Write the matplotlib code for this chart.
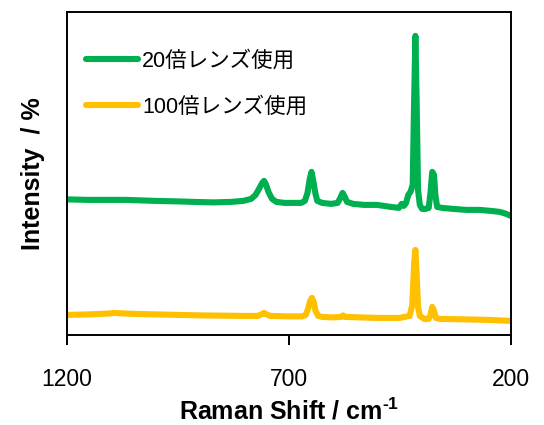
import matplotlib
matplotlib.use('Agg')
import matplotlib.pyplot as plt

plt.rcParams['font.family'] = ['Liberation Sans', 'Noto Sans CJK JP']
plt.rcParams['mathtext.fontset'] = 'custom'
plt.rcParams['mathtext.rm'] = 'Liberation Sans:bold'
plt.rcParams['mathtext.bf'] = 'Liberation Sans:bold'

# Raman shift (cm-1) and intensity (arbitrary units)
shift_20x = [1200, 1150, 1100, 1066, 1000, 950, 915, 870, 830, 803, 785, 775, 766,
             760, 756, 752, 746, 738, 728, 710, 690, 672, 664, 658, 653, 649, 645,
             640, 636, 625, 605, 590, 584, 579, 574, 569, 555, 530, 502, 470, 452,
             446, 441, 436, 431, 426, 421, 418, 415, 412, 409, 405, 400, 392, 385,
             381, 377, 373, 370, 366, 355, 330, 300, 270, 245, 225, 210, 200]
int_20x = [135.5, 135, 135, 135, 134, 133.5, 133, 132.5, 133, 134, 136, 140, 147,
           152, 154, 151, 143, 136, 133, 132, 132, 132, 134, 142, 156, 163, 154,
           141, 134, 132, 131, 132, 137, 142, 138, 133, 131, 130, 130, 128, 127,
           131, 129, 132, 140, 143, 150, 230, 299, 230, 145, 130, 126, 126, 127,
           142, 163, 160, 140, 128, 127, 126, 125, 125, 124, 123, 121, 119]

shift_100x = [1200, 1150, 1100, 1096, 1050, 1000, 900, 800, 770, 762, 756, 750, 742,
              700, 670, 662, 656, 652, 648, 644, 640, 634, 625, 600, 582, 578, 574,
              540, 500, 450, 428, 422, 418, 415, 412, 409, 405, 395, 385, 381, 377,
              373, 369, 360, 300, 250, 200]
int_100x = [20, 20.5, 21.5, 22, 21, 20.5, 19.5, 19, 19, 20.5, 22, 20.5, 19,
            18.5, 18.5, 20, 27, 34, 37, 33, 24, 19, 18, 17.5, 18, 19.5, 18,
            17.5, 17, 17, 19, 30, 70, 85, 60, 28, 19, 16, 16, 20, 28,
            24, 17, 16, 15.5, 15, 14]

labels = ['20倍レンズ使用', '100倍レンズ使用']
colors = ['#00B050', '#FFC000']

fig = plt.figure(figsize=(5.44, 4.25), dpi=100)
ax = fig.add_axes([0.123, 0.212, 0.816, 0.760])

ax.plot(shift_20x, int_20x, color=colors[0], lw=4.4, solid_joinstyle='round',
        solid_capstyle='round', label=labels[0])
ax.plot(shift_100x, int_100x, color=colors[1], lw=4.4, solid_joinstyle='round',
        solid_capstyle='round', label=labels[1])

ax.set_xlim(1200, 200)
ax.set_ylim(0, 323)
ax.set_xticks([1200, 700, 200])
ax.set_yticks([])
ax.tick_params(axis='x', direction='out', length=7, width=1.4, labelsize=16.5, pad=17)
for sp in ax.spines.values():
    sp.set_linewidth(1.4)

ax.set_xlabel('Raman Shift / cm$^{\\text{-1}}$', fontsize=18, fontweight='bold', labelpad=5)
ax.set_ylabel('Intensity  / %', fontsize=18, fontweight='bold', labelpad=16)

ax.legend(loc='upper left', bbox_to_anchor=(0.0, 0.94), frameon=False, fontsize=15.5,
          handlelength=2.4, handletextpad=0.2, labelspacing=1.15, borderaxespad=0.5)

fig.savefig('out.png', dpi=100)
